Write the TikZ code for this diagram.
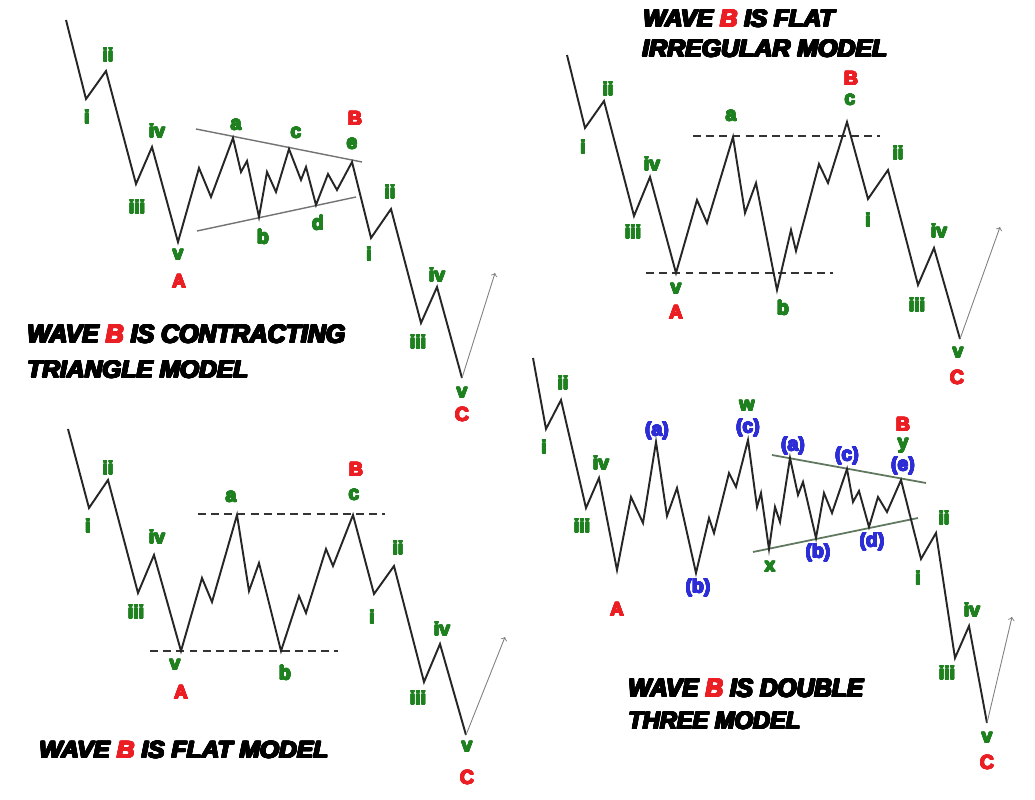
\documentclass[tikz,border=0pt]{standalone}
\usepackage{fontspec}
\usepackage{graphicx}
\usepackage{contour}
\setmainfont{Liberation Sans}
\newfontfamily\heavyfont{Liberation Sans Bold}
\newfontfamily\heavyitfont{Liberation Sans Bold Italic}

\definecolor{wgreen}{RGB}{30,128,30}
\definecolor{wred}{RGB}{235,30,35}
\definecolor{wblue}{RGB}{45,45,215}
\definecolor{tline}{RGB}{95,120,95}

\newlength{\pxu}
\setlength{\pxu}{0.02cm}
\newcommand{\ttlbox}[3]{\resizebox{#1\pxu}{#2\pxu}{#3}}
\newcommand{\hv}[1]{\contour{.}{#1}}
\newcommand{\redB}{\textcolor{wred}{\contour{wred}{B}}}

\tikzset{
  wave/.style={line width=1.1pt, black!85, line join=miter},
  guide/.style={line width=1.2pt, black!80, dash pattern=on 4.5pt off 3pt},
  tri/.style={line width=0.8pt, black!55},
  trigreen/.style={line width=1pt, tline},
  trend/.style={->, line width=0.5pt, black!50},
  lbl/.style={font=\heavyfont\fontsize{11}{13}\selectfont\contourlength{0.35pt}, text=wgreen, inner sep=0pt},
  big/.style={lbl, text=wred},
  sub/.style={lbl, text=wblue},
  ttl/.style={font=\heavyitfont\fontsize{14}{17}\selectfont\contourlength{0.5pt}, anchor=base west, inner sep=0pt},
}

\begin{document}
\begin{tikzpicture}[x=0.02cm, y=-0.02cm]

\fill[white] (0,0) rectangle (1035,800);
\useasboundingbox (0,0) rectangle (1035,800);

% --- triangle model (top left)
\draw[tri] (196,129) -- (362,162);
\draw[tri] (197,231) -- (356,197);
\draw[wave] (66,20) -- (86,99) -- (106,71) -- (136,184) -- (152,147) -- (178,242)
  -- (199,168) -- (211,197) -- (233,138) -- (241,172) -- (247,161) -- (259,217)
  -- (267,172) -- (276,192) -- (289,149) -- (301,180) -- (306,167) -- (316,205)
  -- (328,174) -- (337,190) -- (352,162) -- (371,238) -- (391,209) -- (421,323)
  -- (437,287) -- (462,378) coordinate (end1);
\coordinate (tip1) at (495,273);
\draw[trend] (end1) -- (tip1);

\node[lbl] (t1ii) at (108,55) {\hv{ii}};
\node[lbl] (t1i) at (87,117) {\hv{i}};
\node[lbl] (t1iv) at (157,131) {\hv{iv}};
\node[lbl] (t1iii) at (137,207) {\hv{iii}};
\node[lbl] (t1v) at (178,255) {\hv{v}};
\node[big] (t1A) at (179,282) {\hv{A}};
\node[lbl] (t1a) at (236,125) {\hv{a}};
\node[lbl] (t1c) at (296,133) {\hv{c}};
\node[big] (t1B) at (355,119) {\hv{B}};
\node[lbl] (t1e) at (352,144) {\hv{e}};
\node[lbl] (t1b) at (263,237) {\hv{b}};
\node[lbl] (t1d) at (318,223) {\hv{d}};
\node[lbl] (t1cii) at (390,192) {\hv{ii}};
\node[lbl] (t1ci) at (369,254) {\hv{i}};
\node[lbl] (t1civ) at (437,275) {\hv{iv}};
\node[lbl] (t1ciii) at (418,342) {\hv{iii}};
\node[lbl] (t1cv) at (462,393) {\hv{v}};
\node[big] (t1C) at (462,415) {\hv{C}};

\node[ttl] (title1a) at (27,343) {\ttlbox{318}{18}{\hv{WAVE} \redB{} \hv{IS CONTRACTING}}};
\node[ttl] (title1b) at (27,378) {\ttlbox{221}{17}{\hv{TRIANGLE MODEL}}};

% --- flat irregular model (top right)
\draw[guide] (693,136) -- (880,136);
\draw[guide] (646,273) -- (833,273);
\draw[wave] (567,55) -- (585,128) -- (604,101) -- (634,216) -- (650,177) -- (676,273)
  -- (697,200) -- (707,223) -- (733,137) -- (745,213) -- (756,183) -- (777,290)
  -- (791,230) -- (796,251) -- (819,164) -- (828,183) -- (847,122) -- (868,199)
  -- (888,170) -- (918,285) -- (934,248) -- (960,339) coordinate (end2);
\coordinate (tip2) at (1000,227);
\draw[trend] (end2) -- (tip2);

\node[lbl] (t2ii) at (608,89) {\hv{ii}};
\node[lbl] (t2i) at (583,147) {\hv{i}};
\node[lbl] (t2iv) at (652,164) {\hv{iv}};
\node[lbl] (t2iii) at (633,232) {\hv{iii}};
\node[lbl] (t2v) at (676,289) {\hv{v}};
\node[big] (t2A) at (676,313) {\hv{A}};
\node[lbl] (t2a) at (731,116) {\hv{a}};
\node[big] (t2B) at (851,79) {\hv{B}};
\node[lbl] (t2c) at (850,100) {\hv{c}};
\node[lbl] (t2b) at (783,308) {\hv{b}};
\node[lbl] (t2cii) at (898,153) {\hv{ii}};
\node[lbl] (t2ci) at (868,220) {\hv{i}};
\node[lbl] (t2civ) at (939,231) {\hv{iv}};
\node[lbl] (t2ciii) at (917,305) {\hv{iii}};
\node[lbl] (t2cv) at (958,353) {\hv{v}};
\node[big] (t2C) at (957,378) {\hv{C}};

\node[ttl] (title2a) at (643,27) {\ttlbox{191}{17}{\hv{WAVE} \redB{} \hv{IS FLAT}}};
\node[ttl] (title2b) at (642,57) {\ttlbox{245}{17}{\hv{IRREGULAR MODEL}}};

% --- flat model (bottom left)
\draw[guide] (198,514) -- (385,514);
\draw[guide] (150,651) -- (338,651);
\draw[wave] (68,429) -- (89,508) -- (108,480) -- (138,593) -- (154,555) -- (181,651)
  -- (202,578) -- (212,602) -- (237,515) -- (249,591) -- (259,563) -- (281,651)
  -- (299,596) -- (306,613) -- (326,549) -- (333,566) -- (353,515) -- (374,594)
  -- (394,566) -- (424,682) -- (440,644) -- (466,735) coordinate (end3);
\coordinate (tip3) at (505,637);
\draw[trend] (end3) -- (tip3);

\node[lbl] (t3ii) at (108,468) {\hv{ii}};
\node[lbl] (t3i) at (88,526) {\hv{i}};
\node[lbl] (t3iv) at (157,537) {\hv{iv}};
\node[lbl] (t3iii) at (136,612) {\hv{iii}};
\node[lbl] (t3v) at (175,665) {\hv{v}};
\node[big] (t3A) at (181,693) {\hv{A}};
\node[lbl] (t3a) at (231,497) {\hv{a}};
\node[big] (t3B) at (356,470) {\hv{B}};
\node[lbl] (t3c) at (354,495) {\hv{c}};
\node[lbl] (t3b) at (285,673) {\hv{b}};
\node[lbl] (t3cii) at (398,548) {\hv{ii}};
\node[lbl] (t3ci) at (372,617) {\hv{i}};
\node[lbl] (t3civ) at (442,629) {\hv{iv}};
\node[lbl] (t3ciii) at (418,698) {\hv{iii}};
\node[lbl] (t3cv) at (467,747) {\hv{v}};
\node[big] (t3C) at (467,778) {\hv{C}};

\node[ttl] (title3) at (39,758) {\ttlbox{289}{16.5}{\hv{WAVE} \redB{} \hv{IS FLAT MODEL}}};

% --- double three model (bottom right)
\draw[trigreen] (772,455) -- (926,483);
\draw[trigreen] (753,552) -- (918,518);
\draw[wave] (533,358) -- (546,429) -- (561,400) -- (586,508) -- (599,478) -- (617,570)
  -- (631,497) -- (643,523) -- (656,442) -- (667,516) -- (677,488) -- (696,573)
  -- (709,518) -- (714,533) -- (729,473) -- (736,487) -- (748,440) -- (757,507)
  -- (761,493) -- (769,549) -- (775,507) -- (780,522) -- (790,458) -- (798,495)
  -- (803,482) -- (816,538) -- (824,493) -- (832,513) -- (847,469) -- (853,502)
  -- (859,491) -- (869,527) -- (878,497) -- (887,512) -- (901,480) -- (921,559)
  -- (936,533) -- (955,658) -- (969,626) -- (987,723) coordinate (end4);
\coordinate (tip4) at (1012,617);
\draw[trend] (end4) -- (tip4);

\node[lbl] (t4ii) at (563,383) {\hv{ii}};
\node[lbl] (t4i) at (544,447) {\hv{i}};
\node[lbl] (t4iv) at (601,463) {\hv{iv}};
\node[lbl] (t4iii) at (582,526) {\hv{iii}};
\node[big] (t4A) at (617,610) {\hv{A}};
\node[sub] (t4wa) at (657,431) {\hv{(a)}};
\node[sub] (t4wb) at (698,588) {\hv{(b)}};
\node[lbl] (t4w) at (747,406) {\hv{w}};
\node[sub] (t4wc) at (748,428) {\hv{(c)}};
\node[sub] (t4ya) at (793,446) {\hv{(a)}};
\node[sub] (t4yc) at (847,456) {\hv{(c)}};
\node[big] (t4B) at (903,425) {\hv{B}};
\node[lbl] (t4y) at (903,446) {\hv{y}};
\node[sub] (t4ye) at (903,466) {\hv{(e)}};
\node[lbl] (t4x) at (770,567) {\hv{x}};
\node[sub] (t4yb) at (818,553) {\hv{(b)}};
\node[sub] (t4yd) at (872,542) {\hv{(d)}};
\node[lbl] (t4cii) at (944,518) {\hv{ii}};
\node[lbl] (t4ci) at (918,578) {\hv{i}};
\node[lbl] (t4civ) at (972,610) {\hv{iv}};
\node[lbl] (t4ciii) at (947,673) {\hv{iii}};
\node[lbl] (t4cv) at (987,738) {\hv{v}};
\node[big] (t4C) at (987,763) {\hv{C}};

\node[ttl] (title4a) at (628,697) {\ttlbox{235}{18}{\hv{WAVE} \redB{} \hv{IS DOUBLE}}};
\node[ttl] (title4b) at (628,729) {\ttlbox{172}{17}{\hv{THREE MODEL}}};

\end{tikzpicture}
\end{document}
